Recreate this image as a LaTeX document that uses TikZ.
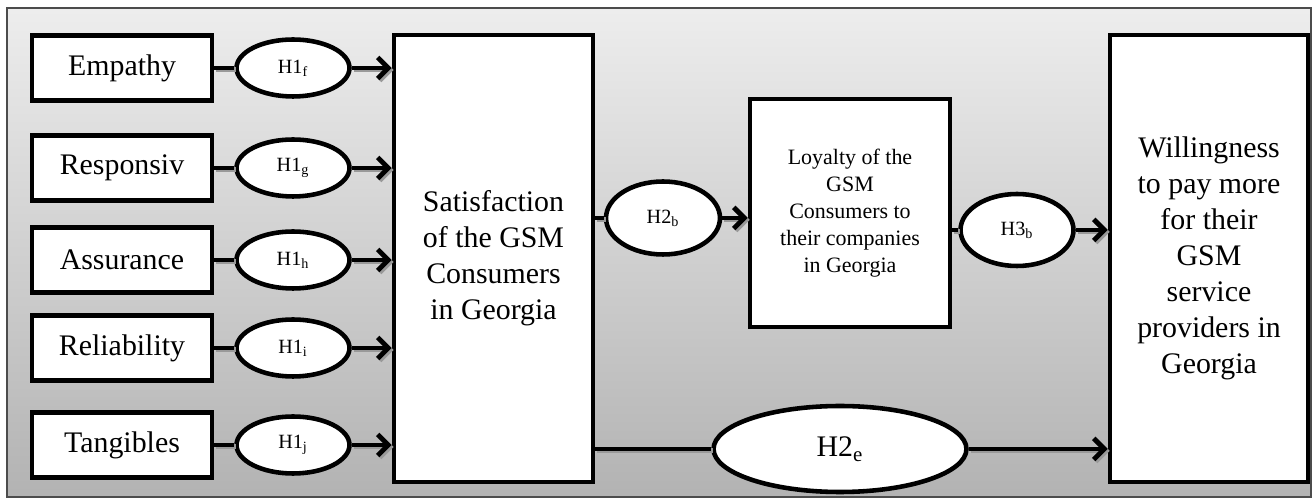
\documentclass[tikz,border=0pt]{standalone}
\usepackage{fontspec}
\setmainfont{Liberation Serif}
\usepackage{tikz}
\usetikzlibrary{shapes,arrows,positioning,calc,shadows,arrows.meta}

\tikzset{
    box/.style={draw, line width=2.6pt, fill=white, align=center, inner sep=2pt,
        drop shadow={shadow xshift=1.1pt, shadow yshift=-1.1pt, fill=black!40}},
    hyp/.style={draw, ellipse, line width=2.6pt, fill=white, inner sep=0pt,
        font=\fontsize{11.5}{13}\selectfont},
    link/.style={line width=2.8pt,
        preaction={draw=black!40, line width=2.8pt, transform canvas={shift={(1.1pt,-1.1pt)}}}},
    tip/.style={-{Straight Barb[length=6pt,width=12pt]}},
    big/.style={font=\fontsize{17}{20.5}\selectfont}
}

\begin{document}
\begin{tikzpicture}[x=0.02cm, y=-0.02cm]
    \useasboundingbox (0,0) rectangle (1315,502);

    % Frame
    \draw[draw=black!70, line width=0.6pt, top color=black!7, bottom color=black!30] (7,8) rectangle (1311,497);

    % Dimensions and hypotheses
    \foreach \i/\txt/\sub/\y in {1/Empathy/f/68, 2/Responsiv/g/168, 3/Assurance/h/260, 4/Reliability/i/348, 5/Tangibles/j/445} {
        \node[box, big, minimum width=3.6cm, minimum height=1.3cm] (d\i) at (122,\y) {\txt};
        \node[hyp, minimum width=2.26cm, minimum height=1.14cm] (h\i) at (293,\y) {H1\textsubscript{\sub}};
    }

    % Main constructs
    \node[box, big, minimum width=3.98cm, minimum height=8.94cm] (sat) at (493.5,258.5)
        {Satisfaction\\of the GSM\\Consumers\\in Georgia};
    \node[box, font=\fontsize{12.5}{15.4}\selectfont, minimum width=4cm, minimum height=4.56cm] (loy) at (850,213)
        {Loyalty of the\\GSM\\Consumers to\\their companies\\in Georgia};
    \node[box, big, minimum width=3.96cm, minimum height=8.94cm] (will) at (1209,258.5)
        {Willingness\\to pay more\\for their\\GSM\\service\\providers in\\Georgia};

    \node[hyp, minimum width=2.28cm, minimum height=1.46cm] (h2b) at (663,218) {H2\textsubscript{b}};
    \node[hyp, minimum width=2.26cm, minimum height=1.44cm] (h3b) at (1017,230) {H3\textsubscript{b}};
    \node[hyp, font=\fontsize{17}{20}\selectfont, minimum width=5.06cm, minimum height=1.72cm] (h2e) at (840,449) {H2\textsubscript{e}};

    % Paths
    \foreach \i in {1,...,5} {
        \draw[link] (d\i) -- (h\i);
        \draw[link, tip] (h\i) -- (h\i -| sat.west);
    }
    \draw[link] (sat.east |- h2b) -- (h2b);
    \draw[link, tip] (h2b) -- (h2b -| loy.west);
    \draw[link] (loy.east |- h3b) -- (h3b);
    \draw[link, tip] (h3b) -- (h3b -| will.west);
    \draw[link] (sat.east |- h2e) -- (h2e);
    \draw[link, tip] (h2e) -- (h2e -| will.west);
\end{tikzpicture}
\end{document}
